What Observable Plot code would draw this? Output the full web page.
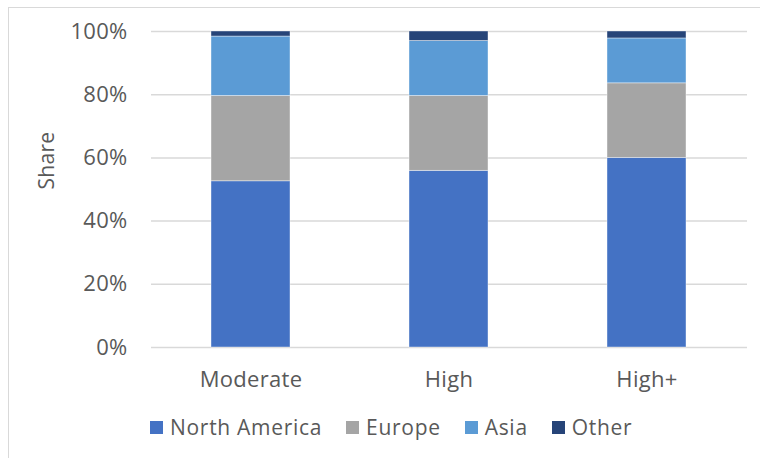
<!DOCTYPE html>
<html>
<head>
<meta charset="utf-8">
<script src="https://cdn.jsdelivr.net/npm/d3@7"></script>
<script src="https://cdn.jsdelivr.net/npm/@observablehq/plot@0.6"></script>
<style>
  html, body { margin: 0; padding: 0; background: #fff; }
  #chart {
    position: relative; width: 760px; height: 458px; overflow: hidden;
    font-family: "Open Sans", sans-serif; color: #595959;
  }
  #frame {
    position: absolute; left: 8px; top: 7px; width: 800px; height: 500px;
    border-left: 1.5px solid #d9d9d9; border-top: 1.5px solid #d9d9d9;
    box-sizing: border-box;
  }
  #plot { position: absolute; left: 0; top: 0; }
  #legend {
    position: absolute; left: 150px; top: 413px; height: 28px;
    display: flex; align-items: center; font-size: 21px; letter-spacing: 0.7px; white-space: nowrap;
  }
  .item { display: flex; align-items: center; margin-right: 24px; }
  .swatch { width: 13px; height: 13px; margin-right: 7px; }
</style>
</head>
<body>
<div id="chart">
  <div id="frame"></div>
  <div id="plot"></div>
  <div id="legend"></div>
</div>
<script>
// Market tiers and regional shares (fractions of 1)
const tiers = ["Moderate", "High", "High+"];
const seriesNames = ["North America", "Europe", "Asia", "Other"];
const northAmerica = [0.526, 0.559, 0.600];
const europe = [0.270, 0.237, 0.236];
const asia = [0.188, 0.174, 0.142];
const other = [0.016, 0.030, 0.022];
const seriesColors = ["#4472C4", "#A5A5A5", "#5B9BD5", "#264478"];
const yTicks = [0, 0.2, 0.4, 0.6, 0.8, 1.0];

const seriesValues = [northAmerica, europe, asia, other];
const rows = [];
seriesNames.forEach((name, s) => {
  tiers.forEach((tier, i) => rows.push({tier, region: name, share: seriesValues[s][i]}));
});

const chart = Plot.plot({
  width: 760,
  height: 400,
  marginLeft: 151,
  marginRight: 13,
  marginTop: 31,
  marginBottom: 53,
  style: {fontFamily: "Open Sans, sans-serif", fontSize: "22px", letterSpacing: "0.3px", color: "#595959", background: "transparent"},
  x: {domain: tiers, paddingInner: 0.6, paddingOuter: 0.3, label: null},
  y: {domain: [0, 1], label: null},
  color: {domain: seriesNames, range: seriesColors},
  marks: [
    Plot.gridY(yTicks, {stroke: "#d9d9d9", strokeOpacity: 1, strokeWidth: 1.5}),
    Plot.barY(rows, {
      x: "tier", y: "share", fill: "region", order: seriesNames,
      stroke: "#ffffff", strokeOpacity: 0.5, strokeWidth: 0.8
    }),
    Plot.axisY(yTicks, {tickSize: 0, tickPadding: 24, tickFormat: d3.format(".0%"), label: null, fill: "#595959"}),
    Plot.axisX({tickSize: 0, tickPadding: 24, label: null, fill: "#595959"}),
    Plot.text(["Share"], {frameAnchor: "left", rotate: -90, dx: -104, fill: "#595959", fontSize: 21})
  ]
});
document.getElementById("plot").appendChild(chart);

const legend = document.getElementById("legend");
seriesNames.forEach((name, i) => {
  const item = document.createElement("div");
  item.className = "item";
  const sw = document.createElement("span");
  sw.className = "swatch";
  sw.style.background = seriesColors[i];
  const label = document.createElement("span");
  label.textContent = name;
  item.appendChild(sw);
  item.appendChild(label);
  legend.appendChild(item);
});
</script>
</body>
</html>
